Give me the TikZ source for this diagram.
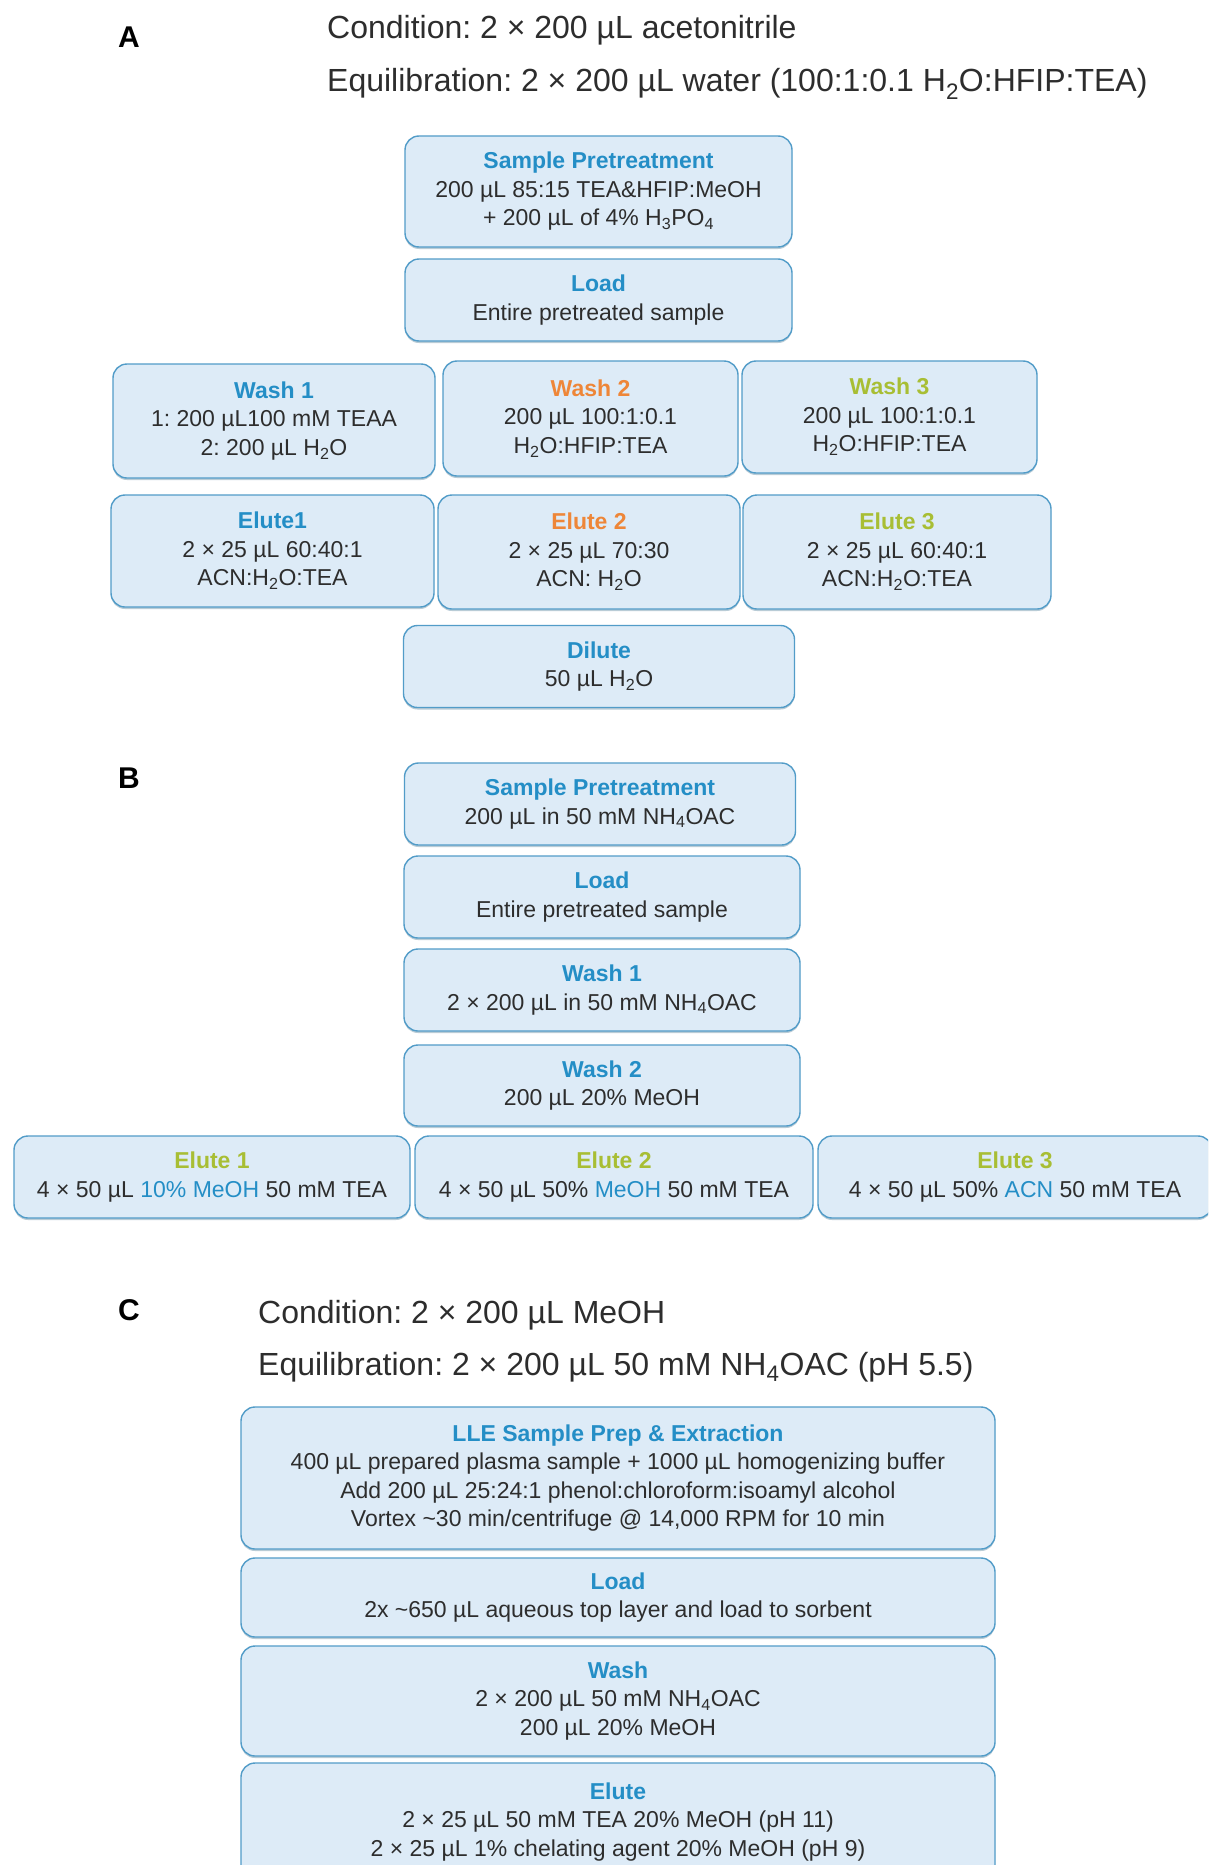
\documentclass[tikz,border=0pt]{standalone}
\usepackage{fontspec}
\setmainfont{Liberation Sans}
\usetikzlibrary{shadows}
\definecolor{hblue}{RGB}{36,142,198}
\definecolor{horange}{RGB}{238,134,56}
\definecolor{hgreen}{RGB}{168,190,52}
\definecolor{boxfill}{RGB}{221,235,247}
\definecolor{boxline}{RGB}{82,156,200}
\definecolor{txt}{RGB}{45,45,45}
\newcommand\headB[1]{{\bfseries\color{hblue}#1}}
\newcommand\headO[1]{{\bfseries\color{horange}#1}}
\newcommand\headG[1]{{\bfseries\color{hgreen}#1}}
\newcommand\blu[1]{{\color{hblue}#1}}
\newcommand\sub[1]{\textsubscript{#1}}
\frenchspacing
\tikzset{
  stepbox/.style={draw=boxline, fill=boxfill, line width=1.4pt, rounded corners=14pt,
    align=center, inner sep=0pt, text=txt, font=\fontsize{23}{28.5}\selectfont\frenchspacing,
    drop shadow={shadow xshift=0pt, shadow yshift=-2pt, opacity=0.35, fill=boxline!70!black}},
  sz/.style 2 args={minimum width=#1pt, minimum height=#2pt},
  header/.style={anchor=base west, inner sep=0pt, text=txt, font=\fontsize{32}{38}\selectfont\frenchspacing},
  panel/.style={anchor=center, inner sep=0pt, text=black, font=\fontsize{30}{36}\selectfont\bfseries}
}
\begin{document}
\begin{tikzpicture}[x=1pt,y=-1pt]
\useasboundingbox (0,0) rectangle (1208,1865);
\fill[white] (0,0) rectangle (1208,1865);
\begin{scope}
\clip (0,0) rectangle (1208,1865);
% ---------- Panel A ----------
\node[panel] (labA) at (129,37) {A};
\node[header] (condA) at (327,39) {Condition: 2 × 200 µL acetonitrile};
\node[header] (equiA) at (327,92) {Equilibration: 2 × 200 µL water (100:1:0.1 H\sub{2}O:HFIP:TEA)};

\node[stepbox, sz={387}{111}] (sptA) at (598.5,191.5)
  {\headB{Sample Pretreatment}\\200 µL 85:15 TEA\&HFIP:MeOH\\+ 200 µL of 4\% H\sub{3}PO\sub{4}};
\node[stepbox, sz={387}{82}] (loadA) at (598.5,300)
  {\headB{Load}\\Entire pretreated sample};
\node[stepbox, sz={322}{114}] (w1A) at (274,421)
  {\headB{Wash 1}\\1: 200 µL100 mM TEAA\\2: 200 µL H\sub{2}O};
\node[stepbox, sz={295}{115}] (w2A) at (590.5,418.5)
  {\headO{Wash 2}\\200 µL 100:1:0.1\\H\sub{2}O:HFIP:TEA};
\node[stepbox, sz={295}{112}] (w3A) at (889.5,417)
  {\headG{Wash 3}\\200 µL 100:1:0.1\\H\sub{2}O:HFIP:TEA};
\node[stepbox, sz={323}{112}] (e1A) at (272.5,551)
  {\headB{Elute1}\\2 × 25 µL 60:40:1\\ACN:H\sub{2}O:TEA};
\node[stepbox, sz={302}{114}] (e2A) at (589,552)
  {\headO{Elute 2}\\2 × 25 µL 70:30\\ACN: H\sub{2}O};
\node[stepbox, sz={308}{114}] (e3A) at (897,552)
  {\headG{Elute 3}\\2 × 25 µL 60:40:1\\ACN:H\sub{2}O:TEA};
\node[stepbox, sz={391}{82}] (dilA) at (599,666.5)
  {\headB{Dilute}\\50 µL H\sub{2}O};

% ---------- Panel B ----------
\node[panel] (labB) at (129,778) {B};
\node[stepbox, sz={391}{82}] (sptB) at (600,804)
  {\headB{Sample Pretreatment}\\200 µL in 50 mM NH\sub{4}OAC};
\node[stepbox, sz={396}{82}] (loadB) at (602,897)
  {\headB{Load}\\Entire pretreated sample};
\node[stepbox, sz={396}{82}] (w1B) at (602,990)
  {\headB{Wash 1}\\2 × 200 µL in 50 mM NH\sub{4}OAC};
\node[stepbox, sz={396}{81}] (w2B) at (602,1085.5)
  {\headB{Wash 2}\\200 µL 20\% MeOH};
\node[stepbox, sz={396}{82}] (e1B) at (212,1177)
  {\headG{Elute 1}\\4 × 50 µL \blu{10\% MeOH} 50 mM TEA};
\node[stepbox, sz={398}{82}] (e2B) at (614,1177)
  {\headG{Elute 2}\\4 × 50 µL 50\% \blu{MeOH} 50 mM TEA};
\node[stepbox, sz={394}{82}] (e3B) at (1015,1177)
  {\headG{Elute 3}\\4 × 50 µL 50\% \blu{ACN} 50 mM TEA};

% ---------- Panel C ----------
\node[panel] (labC) at (129,1310) {C};
\node[header] (condC) at (258,1323) {Condition: 2 × 200 µL MeOH};
\node[header] (equiC) at (258,1375) {Equilibration: 2 × 200 µL 50 mM NH\sub{4}OAC (pH 5.5)};

\node[stepbox, sz={754}{142}] (lleC) at (618,1478)
  {\headB{LLE Sample Prep \& Extraction}\\400 µL prepared plasma sample + 1000 µL homogenizing buffer\\Add 200 µL 25:24:1 phenol:chloroform:isoamyl alcohol\\Vortex \textasciitilde30 min/centrifuge @ 14,000 RPM for 10 min};
\node[stepbox, sz={754}{79}] (loadC) at (618,1597.5)
  {\headB{Load}\\2x \textasciitilde650 µL aqueous top layer and load to sorbent};
\node[stepbox, sz={754}{110}] (washC) at (618,1701)
  {\headB{Wash}\\2 × 200 µL 50 mM NH\sub{4}OAC\\200 µL 20\% MeOH};
\node[stepbox, sz={754}{118}] (eluteC) at (618,1822)
  {\headB{Elute}\\2 × 25 µL 50 mM TEA 20\% MeOH (pH 11)\\2 × 25 µL 1\% chelating agent 20\% MeOH (pH 9)};
\end{scope}
\end{tikzpicture}
\end{document}
